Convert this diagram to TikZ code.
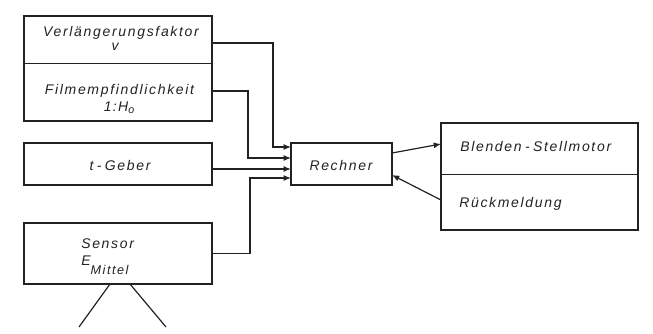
\documentclass[tikz,border=0pt]{standalone}
\usepackage{fontspec}
\newfontfamily\lab{Liberation Sans}[LetterSpace=12]
\usetikzlibrary{arrows.meta,calc}
\definecolor{ink}{HTML}{222222}
\begin{document}
\begin{tikzpicture}[x=0.75pt,y=-0.75pt,
  box/.style={draw=ink,line width=0.6pt,inner sep=0pt,outer sep=0pt,minimum width=141pt},
  frame/.style={draw=ink,line width=1.2pt},
  txt/.style={inner sep=0pt,font=\lab\itshape\fontsize{10.5}{12}\selectfont,text=ink},
  conn/.style={draw=ink,line width=0.9pt},
  arr/.style={conn,-{Latex[length=5.5pt,width=4.5pt]}}]
\useasboundingbox (0,0) rectangle (653,333);
% left boxes
\node[box,minimum height=35.25pt] (A) at (118,39.5) {};
\node[box,minimum height=43.5pt] (B) at (118,92) {};
\draw[frame] (A.north west) rectangle (B.south east);
\node[box,frame,minimum height=31.5pt] (T) at (118,164) {};
\node[box,frame,minimum height=45.75pt] (S) at (118,253.5) {};
% Rechner
\node[box,frame,minimum width=75.75pt,minimum height=31.5pt] (R) at (341.5,164) {};
% right box
\node[box,minimum width=147.75pt,minimum height=38.25pt] (M) at (539.5,148.5) {};
\node[box,minimum width=147.75pt,minimum height=42pt] (K) at (539.5,202) {};
\draw[frame] (M.north west) rectangle (K.south east);
% texts
\node[txt,anchor=base] (tA1) at (121,36) {Verlängerungsfaktor};
\node[txt,anchor=base] (tA2) at (115,50) {v};
\node[txt,anchor=base] (tB1) at (119.5,94) {Filmempfindlichkeit};
\node[txt,anchor=base] (tB2) at (119,111) {1\kern1pt:\kern1ptH\raisebox{-1.5pt}{\fontsize{8}{9}\selectfont o}};
\node[txt,anchor=base] (tT) at (120,170.5) {t\hspace{2.5pt}-\hspace{2.5pt}Geber};
\node[txt,anchor=base west] (tS1) at (81,248) {Sensor};
\node[txt,anchor=base west] (tS2) at (81,265) {E\raisebox{-7pt}{\fontsize{9.5}{10}\selectfont Mittel}};
\node[txt,anchor=base] (tR) at (341,170.5) {Rechner};
\node[txt,anchor=base west] (tM) at (460,151.5) {Blenden\hspace{2.5pt}-\hspace{2.5pt}Stellmotor};
\node[txt,anchor=base west] (tK) at (459,207.5) {Rückmeldung};
% connectors into Rechner
\draw[arr] ($(A.east)+(0,3.5)$) -| ($(R.west)+(-18,-17)$) -- ($(R.west)+(0,-17)$);
\draw[arr] ($(B.east)+(0,-1)$) -| ($(R.west)+(-43,-6)$) -- ($(R.west)+(0,-6)$);
\draw[arr,line width=1.6pt] ($(T.east)+(0,5)$) -- ($(R.west)+(0,5)$);
\draw[arr] (S.east) -| ($(R.west)+(-41,14)$) -- ($(R.west)+(0,14)$);
% Rechner <-> motor
\draw[arr] ($(R.east)+(0,-11)$) -- ($(M.west)+(0,-4.5)$);
\draw[arr] ($(K.west)+(0,-2)$) -- ($(R.east)+(0,11)$);
% sensor field of view
\draw[conn] ($(S.south)+(-8,0)$) -- ++(-31,43);
\draw[conn] ($(S.south)+(12,0)$) -- ++(36,43);
\end{tikzpicture}
\end{document}
